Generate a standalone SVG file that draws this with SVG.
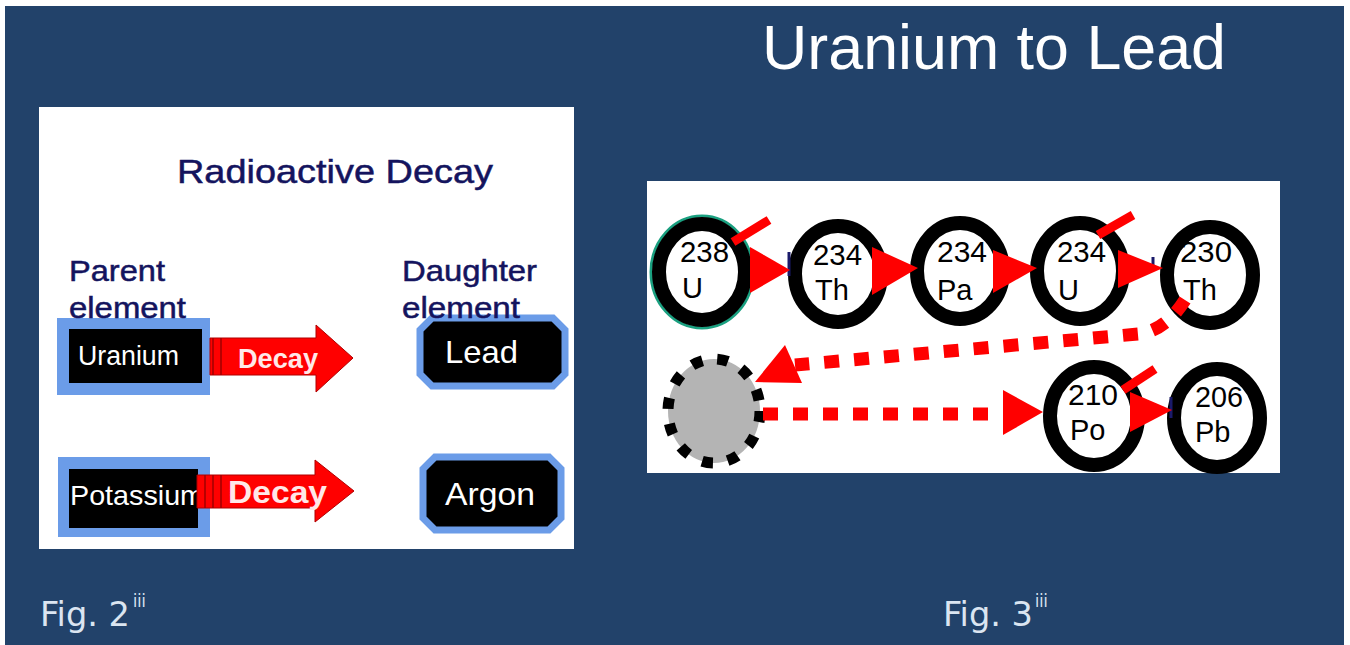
<svg xmlns="http://www.w3.org/2000/svg" width="1350" height="645" viewBox="0 0 1350 645">
<style>
.navy{font-family:"Liberation Sans",Arial,sans-serif;fill:#14145e;stroke:#14145e;stroke-width:0.5}
.wt{font-family:"Liberation Sans",Arial,sans-serif;fill:#ffffff}
.num{font-family:"Liberation Sans",Arial,sans-serif;font-size:29px;fill:#000}
.fig{font-family:"DejaVu Sans Condensed","DejaVu Sans",Verdana,sans-serif;fill:#dbe5f1}
.ring{fill:#fff;stroke:#000;stroke-width:14}
.tri{fill:#ff0000}
.bar{stroke:#ff0000;stroke-width:9}
.dash{fill:none;stroke:#ff0000;stroke-width:13;stroke-dasharray:15 15}
.blue{fill:#6b9ce8}
.oct{fill:#000;stroke:#6b9ce8;stroke-width:7}
.decay{fill:#ff0000;stroke:#b00000;stroke-width:1}
.stripe{stroke:#a00000;stroke-width:1.5}
.mark{stroke:#1a1a6a;stroke-width:3}
</style>
<rect x="0" y="0" width="1350" height="645" fill="#ffffff"/>
<rect x="5" y="6" width="1339" height="639" fill="#22426a"/>
<text x="762" y="69" class="wt" font-size="63" textLength="464" lengthAdjust="spacingAndGlyphs">Uranium to Lead</text>

<g id="fig2">
<rect x="39" y="107" width="535" height="442" fill="#ffffff"/>
<text x="177" y="183" class="navy" font-size="34" textLength="316" lengthAdjust="spacingAndGlyphs">Radioactive Decay</text>
<text x="69" y="281" class="navy" font-size="29" textLength="96" lengthAdjust="spacingAndGlyphs">Parent</text>
<text x="402" y="281" class="navy" font-size="29" textLength="135" lengthAdjust="spacingAndGlyphs">Daughter</text>
<g id="uranium">
<rect x="57" y="318" width="153" height="77" class="blue"/>
<rect x="69" y="329" width="133" height="54" fill="#000"/>
<text x="78" y="365" class="wt" font-size="27" textLength="101" lengthAdjust="spacingAndGlyphs">Uranium</text>
</g>
<text x="69" y="318" class="navy" font-size="29" textLength="117" lengthAdjust="spacingAndGlyphs">element</text>
<g id="lead">
<path d="M432,318 L553,318 L565,330 L565,374 L553,386 L432,386 L420,374 L420,330 Z" class="oct"/>
<text x="445" y="363" class="wt" font-size="32" textLength="73" lengthAdjust="spacingAndGlyphs">Lead</text>
</g>
<text x="402" y="318" class="navy" font-size="29" textLength="118" lengthAdjust="spacingAndGlyphs">element</text>
<g id="potassium">
<rect x="58" y="457" width="152" height="80" class="blue"/>
<rect x="69" y="469" width="129" height="59" fill="#000"/>
<text x="70" y="505" class="wt" font-size="28" textLength="134" lengthAdjust="spacingAndGlyphs">Potassium</text>
</g>
<g id="argon">
<path d="M435,457 L549,457 L561,469 L561,518 L549,530 L435,530 L423,518 L423,469 Z" class="oct"/>
<text x="445" y="505" class="wt" font-size="32" textLength="90" lengthAdjust="spacingAndGlyphs">Argon</text>
</g>
<g id="decay-arrows">
<polygon points="210,338 316,338 316,325 353,358 316,392 316,375 210,375" class="decay"/>
<line x1="213" y1="338" x2="213" y2="375" class="stripe"/>
<line x1="221" y1="338" x2="221" y2="375" class="stripe"/>
<text x="238" y="368" class="wt" font-size="27" font-weight="bold" textLength="80" lengthAdjust="spacingAndGlyphs" style="fill:#ffe8e8">Decay</text>
<polygon points="197,475 315,475 315,460 354,491 315,522 315,508 197,508" class="decay"/>
<line x1="205" y1="475" x2="205" y2="508" class="stripe"/>
<line x1="213" y1="475" x2="213" y2="508" class="stripe"/>
<line x1="221" y1="475" x2="221" y2="508" class="stripe"/>
<text x="228" y="503" class="wt" font-size="32" font-weight="bold" textLength="99" lengthAdjust="spacingAndGlyphs" style="fill:#ffe8e8">Decay</text>
</g>
</g>

<g id="fig3">
<rect x="647" y="181" width="633" height="292" fill="#ffffff"/>
<g id="n-u238">
<ellipse cx="702" cy="272" rx="51" ry="56" fill="none" stroke="#1aa080" stroke-width="3"/>
<ellipse cx="702" cy="272" rx="43" ry="48" class="ring"/>
<text x="680" y="262" class="num" textLength="49" lengthAdjust="spacingAndGlyphs">238</text>
<text x="682" y="298" class="num">U</text>
</g>
<g id="n-th234">
<ellipse cx="838" cy="274" rx="43" ry="48" class="ring"/>
<text x="813" y="265" class="num" textLength="49" lengthAdjust="spacingAndGlyphs">234</text>
<text x="815" y="300" class="num">Th</text>
</g>
<g id="n-pa234">
<ellipse cx="960" cy="271" rx="43" ry="48" class="ring"/>
<text x="937" y="262" class="num" textLength="50" lengthAdjust="spacingAndGlyphs">234</text>
<text x="937" y="300" class="num">Pa</text>
</g>
<g id="n-u234">
<ellipse cx="1080" cy="271" rx="43" ry="48" class="ring"/>
<text x="1057" y="262" class="num" textLength="49" lengthAdjust="spacingAndGlyphs">234</text>
<text x="1058" y="300" class="num">U</text>
</g>
<g id="n-th230">
<ellipse cx="1210" cy="275" rx="43" ry="48" class="ring"/>
<text x="1180" y="262" class="num" textLength="52" lengthAdjust="spacingAndGlyphs">230</text>
<text x="1183" y="300" class="num">Th</text>
</g>
<g id="n-unknown">
<ellipse cx="714" cy="411" rx="46" ry="52" fill="#b4b4b4" stroke="#000" stroke-width="11" stroke-dasharray="11 15"/>
</g>
<g id="n-po210">
<ellipse cx="1094" cy="416" rx="44" ry="49" class="ring"/>
<text x="1068" y="405" class="num" textLength="50" lengthAdjust="spacingAndGlyphs">210</text>
<text x="1070" y="440" class="num">Po</text>
</g>
<g id="n-pb206">
<ellipse cx="1217" cy="418" rx="43" ry="49" class="ring"/>
<text x="1195" y="407" class="num" textLength="48" lengthAdjust="spacingAndGlyphs">206</text>
<text x="1195" y="442" class="num">Pb</text>
</g>
<g id="connectors">
<line x1="789" y1="252" x2="789" y2="276" class="mark"/>
<line x1="1153" y1="257" x2="1153" y2="266" class="mark"/>
<line x1="1171" y1="397" x2="1171" y2="418" class="mark"/>
<polygon points="750,247 750,293 790,270" class="tri"/>
<polygon points="872,247 872,295 918,268" class="tri"/>
<polygon points="993,250 993,293 1037,268" class="tri"/>
<polygon points="1118,250 1118,288 1163,268" class="tri"/>
<polygon points="1130,392 1130,432 1172,410" class="tri"/>
<line x1="733" y1="242" x2="769" y2="220" class="bar"/>
<line x1="1098" y1="235" x2="1133" y2="215" class="bar"/>
<line x1="1123" y1="390" x2="1155" y2="369" class="bar"/>
<path d="M1185,300 Q1165,331 1138,334 L795,365" class="dash"/>
<polygon points="755,382 785,345 802,383" class="tri"/>
<path d="M763,414 L1003,414" class="dash"/>
<polygon points="1003,390 1003,435 1043,412" class="tri"/>
</g>
</g>

<text x="40" y="626" class="fig" font-size="33" textLength="90" lengthAdjust="spacingAndGlyphs">Fig. 2</text>
<text x="133" y="607" class="fig" font-size="17">iii</text>
<text x="943" y="626" class="fig" font-size="33" textLength="90" lengthAdjust="spacingAndGlyphs">Fig. 3</text>
<text x="1035" y="607" class="fig" font-size="17">iii</text>
</svg>
